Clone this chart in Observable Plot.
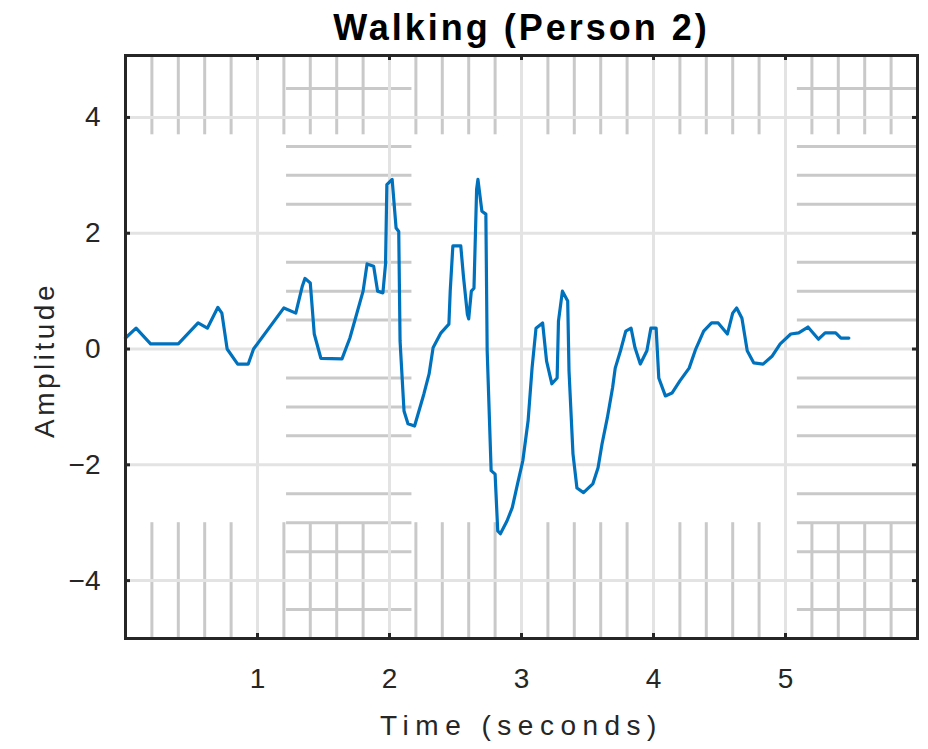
<!DOCTYPE html>
<html><head><meta charset="utf-8">
<script src="https://cdn.jsdelivr.net/npm/d3@7"></script>
<script src="https://cdn.jsdelivr.net/npm/@observablehq/plot@0.6"></script>
<style>body{margin:0;background:#fff} svg{display:block}</style>
</head><body><div id="chart"></div>
<script>
const title = "Walking (Person 2)";
const xLabel = "Time (seconds)";
const yLabel = "Amplitude";

const time = [0, 0.08, 0.19, 0.40, 0.55, 0.62, 0.70, 0.73, 0.77, 0.85, 0.93, 0.97, 1.20, 1.29, 1.34, 1.36, 1.40, 1.43, 1.48, 1.64, 1.70, 1.80, 1.83, 1.88, 1.91, 1.95, 1.97, 1.98, 2.02, 2.05, 2.07, 2.08, 2.11, 2.14, 2.19, 2.26, 2.30, 2.33, 2.39, 2.45, 2.46, 2.48, 2.54, 2.56, 2.59, 2.60, 2.62, 2.64, 2.66, 2.67, 2.70, 2.73, 2.74, 2.77, 2.80, 2.82, 2.84, 2.89, 2.93, 2.97, 3.01, 3.05, 3.08, 3.11, 3.16, 3.19, 3.23, 3.27, 3.28, 3.31, 3.35, 3.36, 3.39, 3.42, 3.47, 3.54, 3.58, 3.61, 3.65, 3.69, 3.71, 3.75, 3.79, 3.83, 3.86, 3.90, 3.95, 3.98, 4.02, 4.04, 4.09, 4.14, 4.20, 4.27, 4.32, 4.38, 4.44, 4.49, 4.56, 4.60, 4.63, 4.67, 4.71, 4.76, 4.83, 4.90, 4.96, 5.04, 5.10, 5.17, 5.25, 5.30, 5.38, 5.42, 5.48];
const value = [0.19, 0.36, 0.09, 0.09, 0.45, 0.36, 0.72, 0.62, 0.0, -0.26, -0.26, 0.0, 0.71, 0.62, 1.09, 1.22, 1.14, 0.26, -0.16, -0.17, 0.19, 1.0, 1.47, 1.43, 1.0, 0.97, 1.47, 2.84, 2.93, 2.09, 2.03, 0.14, -1.07, -1.29, -1.33, -0.78, -0.43, 0.02, 0.28, 0.43, 1.0, 1.78, 1.78, 1.26, 0.6, 0.52, 1.0, 1.05, 2.76, 2.93, 2.38, 2.33, -0.03, -2.1, -2.16, -3.14, -3.19, -2.97, -2.74, -2.33, -1.93, -1.24, -0.33, 0.36, 0.45, -0.21, -0.60, -0.5, 0.48, 1.0, 0.83, -0.38, -1.81, -2.4, -2.48, -2.33, -2.05, -1.64, -1.19, -0.67, -0.33, -0.03, 0.31, 0.36, 0.02, -0.26, -0.03, 0.36, 0.36, -0.5, -0.81, -0.76, -0.55, -0.33, 0.0, 0.31, 0.45, 0.45, 0.26, 0.62, 0.71, 0.53, -0.03, -0.24, -0.26, -0.12, 0.09, 0.26, 0.28, 0.38, 0.17, 0.28, 0.28, 0.19, 0.19];

const xTicks = [1, 2, 3, 4, 5];
const yTicks = [-4, -2, 0, 2, 4];
const xMinor = [0.2, 0.4, 0.6, 0.8, 1.2, 1.4, 1.6, 1.8, 2.2, 2.4, 2.6, 2.8, 3.2, 3.4, 3.6, 3.8, 4.2, 4.4, 4.6, 4.8, 5.2, 5.4, 5.6, 5.8];
const yMinor = [-4.5, -3.5, -3, -2.5, -1.5, -1, -0.5, 0.5, 1, 1.5, 2.5, 3, 3.5, 4.5];

const xDomain = [0, 6];
const yDomain = [-5, 5.07];

const W = 928, H = 749, mt = 55, mb = 111, ml = 125, mr = 11;
const innerH = H - mt - mb, innerW = W - ml - mr;
const data = time.map((t, i) => ({t, v: value[i]}));
const font = "'Liberation Sans', Arial, Helvetica, sans-serif";
const ink = "#262626";
const minorStyle = {stroke: "#c9c9c9", strokeWidth: 3};
const majorStyle = {stroke: "#e3e3e3", strokeWidth: 3};

const plot = Plot.plot({
  width: W, height: H,
  marginTop: mt, marginBottom: mb, marginLeft: ml, marginRight: mr,
  style: {fontFamily: font, background: "#fff", color: ink},
  x: {domain: xDomain},
  y: {domain: yDomain},
  marks: [
    Plot.ruleX(xMinor, {x: d => d, y1: 3.7, y2: yDomain[1], ...minorStyle}),
    Plot.ruleX(xMinor, {x: d => d, y1: yDomain[0], y2: -3, ...minorStyle}),
    Plot.ruleY(yMinor, {y: d => d, x1: 1.22, x2: 2.17, ...minorStyle}),
    Plot.ruleY(yMinor, {y: d => d, x1: 5.09, x2: xDomain[1], ...minorStyle}),
    Plot.ruleX(xTicks, {x: d => d, ...majorStyle}),
    Plot.ruleY(yTicks, {y: d => d, ...majorStyle}),
    Plot.line(data, {x: "t", y: "v", stroke: "#0072BD", strokeWidth: 3.2}),
    Plot.tickX(xTicks, {x: d => d, insetTop: innerH - 5, stroke: ink, strokeWidth: 3}),
    Plot.tickX(xTicks, {x: d => d, insetBottom: innerH - 5, stroke: ink, strokeWidth: 3}),
    Plot.tickY(yTicks, {y: d => d, insetRight: innerW - 5, stroke: ink, strokeWidth: 3}),
    Plot.tickY(yTicks, {y: d => d, insetLeft: innerW - 5, stroke: ink, strokeWidth: 3}),
    Plot.frame({stroke: ink, strokeWidth: 3}),
    Plot.axisX(xTicks, {tickSize: 0, tickPadding: 30, fontSize: 28, label: null, fill: ink, tickFormat: d => String(d)}),
    Plot.axisY(yTicks, {tickSize: 0, tickPadding: 25, fontSize: 28, label: null, fill: ink, tickFormat: d => (d < 0 ? "\u2212" + Math.abs(d) : String(d))}),
    Plot.text([xLabel], {frameAnchor: "bottom", dy: 96, fontSize: 28, fill: ink}),
    Plot.text([yLabel], {frameAnchor: "left", textAnchor: "middle", dx: -80, dy: 13, rotate: -90, fontSize: 28, fill: ink}),
    Plot.text([title], {frameAnchor: "top", dy: -27, lineAnchor: "middle", fontSize: 36, fontWeight: "bold", fill: "#000"})
  ]
});
document.getElementById("chart").appendChild(plot);
const sel = d3.select(plot).selectAll("text");
sel.filter(function() { return this.textContent === xLabel; }).style("letter-spacing", "6.5px");
sel.filter(function() { return this.textContent === yLabel; }).style("letter-spacing", "3.5px");
sel.filter(function() { return this.textContent === title; }).style("letter-spacing", "3px");
</script>
</body></html>
